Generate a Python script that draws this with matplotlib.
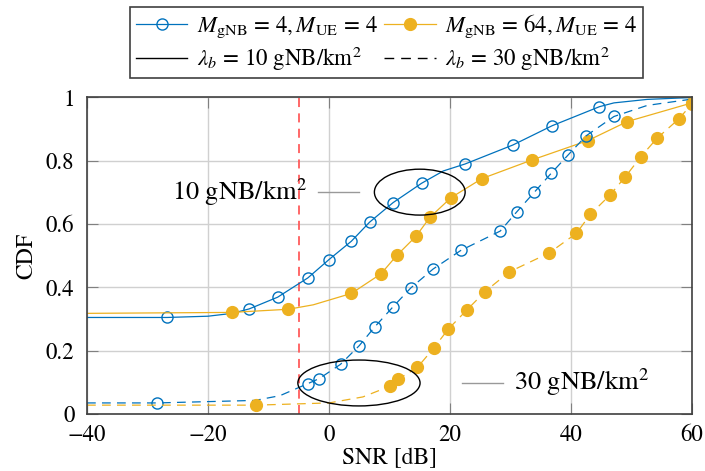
import matplotlib
matplotlib.use("Agg")
import matplotlib.pyplot as plt
from matplotlib.lines import Line2D
from matplotlib.patches import Ellipse

plt.rcParams['font.family'] = ['STIXGeneral', 'DejaVu Serif']
plt.rcParams['mathtext.fontset'] = 'stix'

BLUE = '#0072BD'
ORANGE = '#EDB120'

# M_gNB = 4, lambda_b = 10 gNB/km^2
blue10_x = [-40, -26.8, -20, -16, -13.2, -8.5, -3.5, 0.0, 3.7, 6.7, 10.6, 15.3, 18.9, 22.5,
            30.4, 36.9, 44.7, 47.1, 52.6, 60]
blue10_y = [0.305, 0.305, 0.309, 0.318, 0.332, 0.369, 0.43, 0.488, 0.546, 0.606, 0.668, 0.729,
            0.768, 0.79, 0.85, 0.911, 0.971, 0.983, 0.994, 1.0]
blue10_marks = [1, 4, 5, 6, 7, 8, 9, 10, 11, 13, 14, 15, 16]

# M_gNB = 64, lambda_b = 10 gNB/km^2
orange10_x = [-40, -16.1, -6.7, -2.6, 3.7, 8.6, 11.2, 14.4, 16.7, 20.2, 25.3, 33.6, 42.8, 49.3, 60]
orange10_y = [0.318, 0.321, 0.331, 0.345, 0.381, 0.443, 0.501, 0.562, 0.622, 0.684, 0.744,
              0.803, 0.864, 0.924, 0.983]
orange10_marks = [1, 2, 4, 5, 6, 7, 8, 9, 10, 11, 12, 13, 14]

# M_gNB = 4, lambda_b = 30 gNB/km^2
blue30_x = [-40, -28.4, -12.2, -8.1, -3.5, -1.6, 1.9, 5.0, 7.6, 10.5, 13.5, 17.2, 21.8, 28.3,
            31.0, 33.9, 36.7, 39.5, 42.5, 47.1, 52.6, 60]
blue30_y = [0.035, 0.035, 0.043, 0.058, 0.096, 0.112, 0.157, 0.216, 0.276, 0.337, 0.398, 0.458,
            0.517, 0.578, 0.638, 0.70, 0.76, 0.818, 0.879, 0.94, 0.975, 0.995]
blue30_marks = [1] + list(range(4, 20))

# M_gNB = 64, lambda_b = 30 gNB/km^2
orange30_x = [-40, -12.1, 0.0, 5.6, 10.1, 11.4, 14.6, 17.3, 19.7, 22.8, 25.8, 29.8, 36.4, 40.9,
              43.2, 46.4, 49.0, 51.5, 54.2, 57.8, 60]
orange30_y = [0.028, 0.028, 0.035, 0.054, 0.088, 0.11, 0.147, 0.208, 0.268, 0.329, 0.387, 0.449,
              0.509, 0.571, 0.631, 0.691, 0.75, 0.812, 0.871, 0.932, 0.98]
orange30_marks = [1] + list(range(4, 21))

snr_threshold = -5

x_ticks = [-40, -20, 0, 20, 40, 60]
y_ticks = [0, 0.2, 0.4, 0.6, 0.8, 1]
y_ticklabels = ['0', '0.2', '0.4', '0.6', '0.8', '1']

dash = (0, (7, 5))
blue_style = dict(color=BLUE, lw=0.9, marker='o', markersize=8, markerfacecolor='none',
                  markeredgewidth=1.0, markeredgecolor=BLUE)
orange_style = dict(color=ORANGE, lw=0.9, marker='o', markersize=8.5, markerfacecolor=ORANGE,
                    markeredgecolor=ORANGE)

fig = plt.figure(figsize=(7.05, 4.71), dpi=100)
ax = fig.add_axes([0.1234, 0.121, 0.8582, 0.672])

ax.plot(blue10_x, blue10_y, markevery=blue10_marks, **blue_style)
ax.plot(orange10_x, orange10_y, markevery=orange10_marks, **orange_style)
ax.plot(blue30_x, blue30_y, markevery=blue30_marks, linestyle=dash, **blue_style)
ax.plot(orange30_x, orange30_y, markevery=orange30_marks, linestyle=dash, **orange_style)

ax.axvline(snr_threshold, color='#ff5c5c', lw=1.3, linestyle=(0, (5, 3.5)), zorder=1.5)

# group markers for the two densities
ax.add_patch(Ellipse((15.0, 0.701), 15.0, 0.145, fill=False, edgecolor='black', lw=1.0, zorder=3))
ax.add_patch(Ellipse((4.95, 0.098), 20.2, 0.145, fill=False, edgecolor='black', lw=1.0, zorder=3))
ax.plot([-1.8, 5.0], [0.701, 0.701], color='#999999', lw=1.0)
ax.plot([21.9, 28.8], [0.0995, 0.0995], color='#999999', lw=1.0)
ax.text(-3.6, 0.701, r'10 gNB/km$^2$', fontsize=19, ha='right', va='center')
ax.text(30.5, 0.1, r'30 gNB/km$^2$', fontsize=19, ha='left', va='center')

ax.set_xlim(-40, 60)
ax.set_ylim(0, 1)
ax.set_xticks(x_ticks)
ax.set_xticklabels([str(t).replace('-', '\u2212') for t in x_ticks])
ax.set_yticks(y_ticks)
ax.set_yticklabels(y_ticklabels)
ax.grid(True, color='#d0d0d0', lw=1.0)
ax.set_axisbelow(True)
ax.tick_params(direction='in', length=8, width=0.8, color='#808080', top=True, right=True,
               labelsize=16.5)
ax.tick_params(axis='x', pad=8)
ax.tick_params(axis='y', pad=9)
for s in ax.spines.values():
    s.set_color('#404040')
    s.set_linewidth(1.2)

ax.set_xlabel('SNR [dB]', fontsize=17, labelpad=1)
ax.set_ylabel('CDF', fontsize=17, labelpad=6)

handles = [
    Line2D([], [], **blue_style),
    Line2D([], [], color='black', lw=1.0),
    Line2D([], [], **orange_style),
    Line2D([], [], color='black', lw=1.0, linestyle=dash),
]
labels = [
    r'$M_{\mathrm{gNB}}\, =\, 4, M_{\mathrm{UE}}\, =\, 4$',
    r'$\lambda_b\, =\, 10\ \mathrm{gNB/km}^2$',
    r'$M_{\mathrm{gNB}}\, =\, 64, M_{\mathrm{UE}}\, =\, 4$',
    r'$\lambda_b\, =\, 30\ \mathrm{gNB/km}^2$',
]
leg = fig.legend(handles, labels, ncol=2, loc='upper center', bbox_to_anchor=(0.5485, 0.986),
                 fontsize=16.5, frameon=True, fancybox=False, framealpha=1, handlelength=2.25,
                 handletextpad=0.4, columnspacing=0.3, borderpad=0.25, labelspacing=0.2,
                 borderaxespad=0)
leg.get_frame().set_edgecolor('#404040')
leg.get_frame().set_linewidth(1.2)

fig.savefig('out.png', dpi=100)
